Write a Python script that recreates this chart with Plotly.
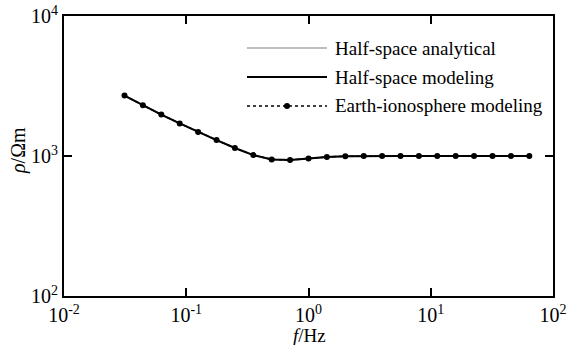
import plotly.graph_objects as go

# Frequencies (Hz) and apparent resistivity (ohm-m)
freq = [0.03125, 0.0442, 0.0625, 0.0884, 0.125, 0.177, 0.25, 0.354, 0.5, 0.707,
        1.0, 1.414, 2.0, 2.83, 4.0, 5.66, 8.0, 11.3, 16.0, 22.6, 32.0, 45.3, 64.0]
rho_analytical = [2700, 2300, 1975, 1710, 1485, 1300, 1140, 1015, 945, 935,
                  960, 985, 995, 1000, 1000, 1000, 1000, 1000, 1000, 1000, 1000, 1000, 1000]
rho_halfspace = [2700, 2300, 1975, 1710, 1485, 1300, 1140, 1015, 945, 935,
                 960, 985, 995, 1000, 1000, 1000, 1000, 1000, 1000, 1000, 1000, 1000, 1000]
rho_earth_iono = [2700, 2300, 1975, 1710, 1485, 1300, 1140, 1015, 945, 935,
                  960, 985, 995, 1000, 1000, 1000, 1000, 1000, 1000, 1000, 1000, 1000, 1000]

legend_names = ["Half-space analytical", "Half-space modeling", "Earth-ionosphere modeling"]
x_ticks = [0.01, 0.1, 1, 10, 100]
x_ticktext = ["10<sup>-2</sup>", "10<sup>-1</sup>", "10<sup>0</sup>", "10<sup>1</sup>", "10<sup>2</sup>"]
y_ticks = [100, 1000, 10000]
y_ticktext = ["10<sup>2</sup>", "10<sup>3</sup>", "10<sup>4</sup>"]
x_title = "<i>f</i>/Hz"
y_title = "<i>ρ</i>/Ωm"

FONT = "Liberation Serif"
W, H = 489, 280  # plot area in pixels
L, T = 64, 16    # plot area offset in pixels

fig = go.Figure()
fig.add_trace(go.Scatter(x=freq, y=rho_analytical, mode="lines",
                         line=dict(color="#bdbdbd", width=2), showlegend=False))
fig.add_trace(go.Scatter(x=freq, y=rho_halfspace, mode="lines",
                         line=dict(color="black", width=2), showlegend=False))
fig.add_trace(go.Scatter(x=freq, y=rho_earth_iono, mode="lines+markers",
                         line=dict(color="black", width=1.5, dash="dot"),
                         marker=dict(color="black", size=6), showlegend=False))


def px(x):
    return (x - L) / W


def py(y):
    return 1 - (y - T) / H


# Hand-drawn legend (long sample lines)
legend_rows = [48, 77, 106]
x0, x1 = px(247), px(327)
styles = [dict(color="#bdbdbd", width=2), dict(color="black", width=2),
          dict(color="black", width=1.5, dash="dot")]
for name, row, st in zip(legend_names, legend_rows, styles):
    ly = py(row)
    fig.add_shape(type="line", xref="paper", yref="paper", x0=x0, x1=x1, y0=ly, y1=ly, line=st)
    fig.add_annotation(xref="paper", yref="paper", x=px(333), y=ly, text=name,
                       showarrow=False, xanchor="left", yanchor="middle",
                       font=dict(family=FONT, size=19, color="black"))
xm = (x0 + x1) / 2
fig.add_shape(type="circle", xref="paper", yref="paper",
              x0=xm - 3 / W, x1=xm + 3 / W,
              y0=py(legend_rows[2]) - 3 / H, y1=py(legend_rows[2]) + 3 / H,
              fillcolor="black", line=dict(color="black", width=0))

# Axis titles
fig.add_annotation(xref="paper", yref="paper", x=px(309), y=py(335), text=x_title,
                   showarrow=False, xanchor="center", yanchor="middle",
                   font=dict(family=FONT, size=19, color="black"))
fig.add_annotation(xref="paper", yref="paper", x=px(18), y=py(151), text=y_title,
                   showarrow=False, xanchor="center", yanchor="middle", textangle=-90,
                   font=dict(family=FONT, size=20, color="black"))

axis_common = dict(showline=True, linecolor="black", linewidth=2, mirror="ticks",
                   ticks="inside", ticklen=8, tickwidth=2, tickcolor="black",
                   showgrid=False, zeroline=False, automargin=False,
                   tickfont=dict(family=FONT, size=20, color="black"))

fig.update_xaxes(type="log", range=[-2, 2], tickvals=x_ticks, ticktext=x_ticktext,
                 ticklabelstandoff=0, **axis_common)
fig.update_yaxes(type="log", range=[2, 4], tickvals=y_ticks, ticktext=y_ticktext,
                 ticklabelstandoff=0, **axis_common)

fig.update_layout(width=569, height=345, margin=dict(l=L, r=569 - L - W, t=T, b=345 - T - H),
                  paper_bgcolor="white", plot_bgcolor="white", showlegend=False)

fig.write_html("out.html")
